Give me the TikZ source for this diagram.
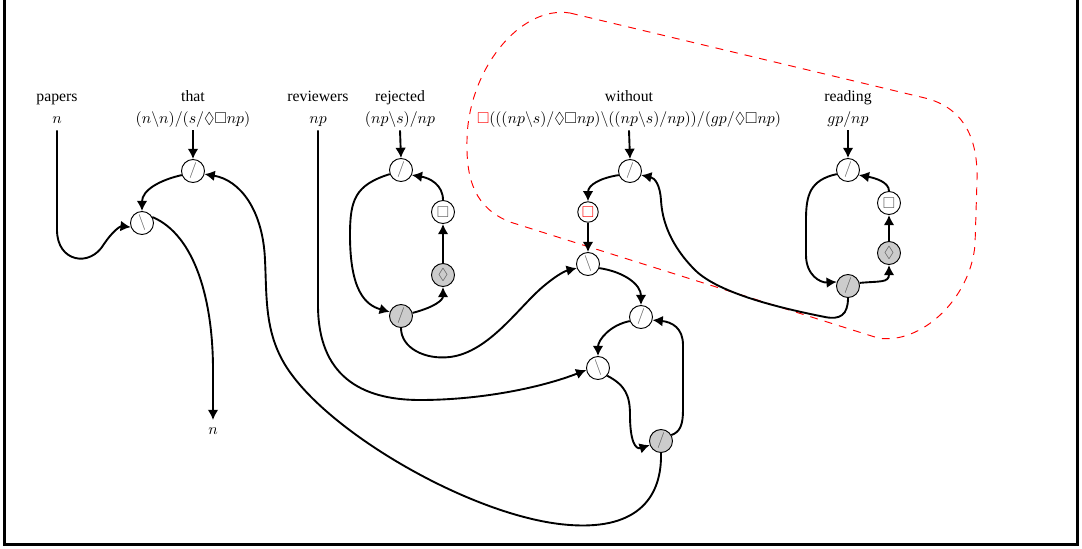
\documentclass[tikz,border=0pt]{standalone}
\usepackage{amssymb}
\usepackage[no-math]{fontspec}
\setmainfont{Liberation Serif}
\usetikzlibrary{arrows.meta}
\begin{document}
\begin{tikzpicture}[x=0.635pt,y=-0.635pt,
  wire/.style={line width=1.2pt,-{Latex[length=6.5pt,width=6.8pt]}},
  lnk/.style={circle,draw=black,line width=0.6pt,minimum size=14.6pt,inner sep=0pt,fill=white,text=black!65},
  lnkg/.style={lnk,fill=black!20},
  word/.style={anchor=base,inner sep=1pt},
  typ/.style={anchor=base,inner sep=2pt,text depth=2.5pt},
  region/.style={red,line width=0.6pt,dash pattern=on 5pt off 4.5pt},
  frame/.style={line width=2pt}
]
\useasboundingbox (0,0) rectangle (1082,548);
\draw[frame] (4.5,0) -- (4.5,544.5) -- (1077.5,544.5) -- (1077.5,0);

% dashed region
\draw[region] (570,13) -- (925,98) .. controls (965,108) and (978,140) .. (977,180)
  -- (975,245) .. controls (970,300) and (920,345) .. (878,338)
  -- (510,222) .. controls (475,208) and (466,180) .. (467,140)
  .. controls (468,70) and (520,5) .. (570,13);

% labels
\node[word] (papers) at (57,101) {papers};
\node[typ] (tpapers) at (57,123) {$n$};
\node[word] (that) at (193,101) {that};
\node[typ] (tthat) at (193,123) {$(n\backslash n)/(s/\Diamond\Box np)$};
\node[word] (reviewers) at (318,101) {reviewers};
\node[typ] (treviewers) at (318,123) {$np$};
\node[word] (rejected) at (400,101) {rejected};
\node[typ] (trejected) at (400,123) {$(np\backslash s)/np$};
\node[word] (without) at (629,101) {without};
\node[typ] (twithout) at (629,123) {$\textcolor{red}{\Box}(((np\backslash s)/\Diamond\Box np)\backslash((np\backslash s)/np))/(gp/\Diamond\Box np)$};
\node[word] (reading) at (848,101) {reading};
\node[typ] (treading) at (848,123) {$gp/np$};
\node (nout) at (213,431) {$n$};
\coordinate (nend) at (213,420);

% links
\node[lnk] (T1) at (193,171) {$/$};
\node[lnk] (B1) at (142,223) {$\backslash$};

\node[lnk] (R1) at (401,170) {$/$};
\node[lnk] (Rbox) at (443,212) {$\Box$};
\node[lnkg] (Rdia) at (443,275) {$\Diamond$};
\node[lnkg] (R2) at (401,316) {$/$};

\node[lnk] (W1) at (630,171) {$/$};
\node[lnk,minimum size=13pt] (WB) at (588,212) {$\textcolor{red}{\Box}$};
\node[lnk] (W2) at (588,264) {$\backslash$};
\node[lnk] (W3) at (641,317) {$/$};
\node[lnk] (B3) at (598,368) {$\backslash$};
\node[lnkg] (G) at (661,441) {$/$};

\node[lnk] (Rd1) at (848,170) {$/$};
\node[lnk] (Rdbox) at (889,203) {$\Box$};
\node[lnkg] (Rddia) at (889,253) {$\Diamond$};
\node[lnkg] (Rd2) at (848,286) {$/$};

% wires
\draw[wire] (tpapers.south) -- (57,230) .. controls (57,262) and (90,268) .. (104,244)
  .. controls (112,232) and (120,226) .. (B1.200);
\draw[wire] (tthat.south) -- (T1.north);
\draw[wire] (T1.200) .. controls (160,180) and (142,190) .. (B1.north);
\draw[wire] (B1.30) .. controls (195,235) and (213,300) .. (213,370) -- (nend);
\draw[wire] (G.south) .. controls (662,495) and (640,530) .. (570,525)
  .. controls (480,519) and (340,440) .. (292,375)
  .. controls (264,338) and (267,300) .. (265,260)
  .. controls (263,210) and (240,180) .. (T1.-15);

\draw[wire] (treviewers.south) -- (318,305) .. controls (318,375) and (360,400) .. (420,400)
  .. controls (480,400) and (540,388) .. (B3.190);

\draw[wire] (trejected.south) -- (R1.north);
\draw[wire] (R1.200) .. controls (355,185) and (350,200) .. (350,235)
  .. controls (350,290) and (365,305) .. (R2.160);
\draw[wire] (R2.15) .. controls (435,307) and (443,300) .. (Rdia.south);
\draw[wire] (Rdia) -- (Rbox);
\draw[wire] (Rbox.north) .. controls (443,185) and (430,178) .. (R1.-25);
\draw[wire] (R2.south) .. controls (401,348) and (425,360) .. (450,357)
  .. controls (490,352) and (520,305) .. (545,285)
  .. controls (557,275) and (565,271) .. (W2.200);

\draw[wire] (twithout.south) -- (W1.north);
\draw[wire] (W1.200) .. controls (600,178) and (588,185) .. (WB.north);
\draw[wire] (WB) -- (W2);
\draw[wire] (W2.-20) .. controls (625,272) and (641,285) .. (W3.north);
\draw[wire] (W3.200) .. controls (610,325) and (598,340) .. (B3.north);
\draw[wire] (B3.-40) .. controls (625,385) and (630,395) .. (630,415)
  .. controls (630,440) and (635,450) .. (G.200);
\draw[wire] (G.30) .. controls (680,432) and (683,425) .. (683,410) -- (683,345)
  .. controls (683,328) and (672,322) .. (W3.-15);

\draw[wire] (treading.south) -- (Rd1.north);
\draw[wire] (Rd1.200) .. controls (810,180) and (806,195) .. (806,220) -- (806,255)
  .. controls (806,275) and (820,283) .. (Rd2.160);
\draw[wire] (Rd2.15) .. controls (880,281) and (889,283) .. (Rddia.south);
\draw[wire] (Rddia) -- (Rdbox);
\draw[wire] (Rdbox.north) .. controls (889,182) and (875,178) .. (Rd1.-25);
\draw[wire] (Rd2.south) .. controls (848,315) and (840,320) .. (825,317)
  .. controls (790,310) and (720,295) .. (695,270)
  .. controls (670,245) and (662,220) .. (661,200)
  .. controls (660,185) and (655,178) .. (W1.-20);
\end{tikzpicture}
\end{document}
